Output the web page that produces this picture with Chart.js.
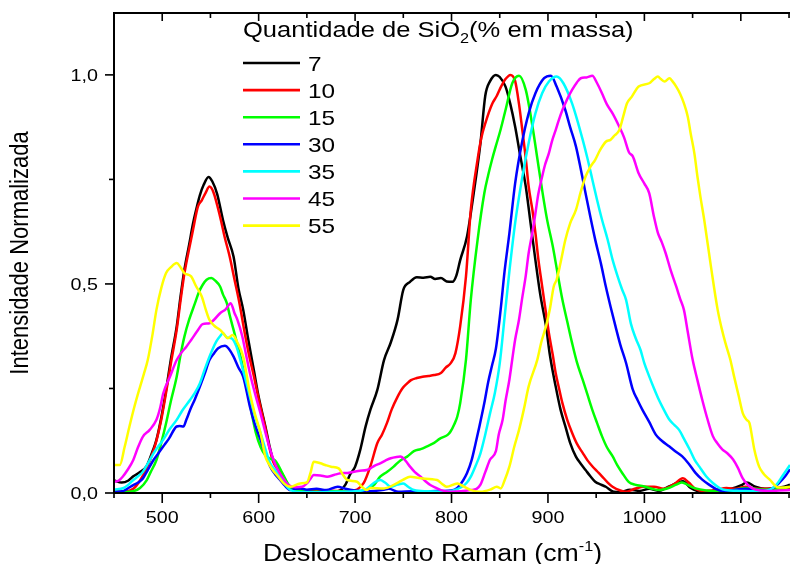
<!DOCTYPE html>
<html lang="pt">
<head>
    <meta charset="UTF-8">
    <title>Espectros Raman normalizados</title>
    <script src="https://cdn.jsdelivr.net/npm/chart.js"></script>
    <style>
        body { margin: 0; background: #fff; }
        canvas { display: block; }
    </style>
</head>
<body>
    <canvas id="ramanChart" width="790" height="564"></canvas>

    <script>
        // Raman shift (cm-1) and normalized intensity, one pair per SiO2 content
        const shift7 = [450,458,465,470,477,484,490,494,499,504,509,515,519,523,528,532,536,539,543,548,552,557,563,568,574,579,584,589,595,600,607,611,615,620,624,628,631,636,645,660,675,685,690,695,700,705,711,716,723,730,737,744,750,757,764,771,778,783,789,795,801,805,809,816,823,830,835,840,846,850,856,861,866,871,877,882,887,892,898,902,908,913,918,923,929,934,939,944,949,955,960,968,975,985,995,1005,1015,1025,1035,1040,1048,1060,1075,1090,1100,1106,1115,1125,1135,1145,1151];
        const int7 = [0.03,0.025,0.03,0.04,0.05,0.065,0.10,0.127,0.18,0.246,0.32,0.398,0.47,0.534,0.595,0.645,0.685,0.712,0.737,0.756,0.745,0.715,0.653,0.61,0.565,0.49,0.438,0.37,0.294,0.23,0.159,0.115,0.079,0.06,0.047,0.03,0.015,0.008,0.005,0.003,0.003,0.007,0.02,0.045,0.063,0.1,0.16,0.2,0.246,0.318,0.36,0.414,0.486,0.505,0.516,0.515,0.517,0.512,0.514,0.506,0.505,0.52,0.557,0.613,0.717,0.837,0.95,0.985,1.0,0.995,0.972,0.93,0.876,0.81,0.733,0.645,0.557,0.475,0.399,0.33,0.255,0.2,0.16,0.12,0.087,0.07,0.055,0.04,0.027,0.02,0.015,0.003,0.002,0.008,0.005,0.01,0.005,0.015,0.025,0.028,0.012,0.003,0.005,0.01,0.018,0.025,0.015,0.01,0.012,0.015,0.02];

        const shift10 = [450,460,470,477,484,490,494,499,504,509,515,519,523,528,532,537,541,545,549,553,560,565,570,575,580,585,590,595,600,607,611,615,620,624,628,632,640,650,665,680,695,702,709,716,723,728,733,738,744,749,754,758,764,770,776,782,789,794,799,804,809,815,820,827,831,835,842,847,851,856,861,866,870,873,877,880,884,887,890,894,898,901,905,908,912,915,920,925,930,936,941,946,951,956,962,967,975,981,990,1000,1010,1020,1030,1040,1046,1053,1062,1075,1085,1095,1105,1115,1125,1135,1145,1151];
        const int10 = [0.005,0.003,0.01,0.03,0.06,0.095,0.125,0.175,0.24,0.31,0.39,0.46,0.525,0.585,0.63,0.685,0.7,0.718,0.733,0.72,0.661,0.61,0.565,0.51,0.455,0.39,0.33,0.28,0.225,0.155,0.11,0.075,0.055,0.04,0.025,0.012,0.006,0.004,0.006,0.005,0.004,0.008,0.024,0.065,0.119,0.14,0.167,0.2,0.23,0.25,0.262,0.27,0.275,0.278,0.28,0.282,0.287,0.3,0.31,0.334,0.399,0.518,0.677,0.797,0.85,0.884,0.93,0.95,0.97,0.99,1.0,0.985,0.93,0.876,0.8,0.733,0.675,0.622,0.56,0.494,0.43,0.382,0.33,0.287,0.245,0.215,0.175,0.144,0.118,0.096,0.078,0.064,0.052,0.04,0.025,0.015,0.006,0.003,0.01,0.015,0.015,0.01,0.02,0.035,0.025,0.01,0.005,0.008,0.012,0.01,0.015,0.01,0.01,0.012,0.01,0.01];

        const shift15 = [450,460,470,477,484,488,494,499,504,509,515,519,523,528,534,538,542,546,551,555,560,563,567,570,574,578,582,587,592,597,602,607,612,617,620,624,628,631,636,645,660,680,700,712,720,726,733,740,747,754,761,768,774,782,788,796,799,803,806,809,815,820,827,834,838,842,846,851,856,863,870,877,884,889,894,899,905,910,915,920,925,930,936,941,946,951,956,961,967,972,977,984,990,1001,1008,1015,1025,1033,1039,1046,1053,1065,1084,1095,1105,1115,1125,1135,1145,1151];
        const int15 = [0.003,0.002,0.004,0.012,0.031,0.05,0.079,0.12,0.167,0.22,0.278,0.33,0.374,0.415,0.454,0.48,0.498,0.51,0.514,0.508,0.494,0.475,0.454,0.425,0.39,0.355,0.318,0.26,0.2,0.145,0.11,0.09,0.082,0.078,0.068,0.05,0.032,0.02,0.008,0.005,0.003,0.004,0.003,0.008,0.02,0.039,0.05,0.063,0.078,0.087,0.1,0.105,0.111,0.12,0.13,0.139,0.147,0.165,0.183,0.215,0.319,0.462,0.605,0.717,0.76,0.797,0.83,0.87,0.916,0.98,0.998,0.964,0.876,0.8,0.724,0.655,0.59,0.525,0.462,0.41,0.359,0.313,0.271,0.235,0.199,0.167,0.136,0.11,0.088,0.066,0.048,0.026,0.02,0.015,0.01,0.007,0.012,0.02,0.025,0.018,0.011,0.006,0.003,0.008,0.012,0.01,0.008,0.01,0.012,0.015];

        const shift30 = [450,460,465,470,475,480,485,491,496,501,507,515,518,522,525,529,534,539,544,549,554,558,565,569,574,579,584,591,596,602,607,612,617,622,627,633,638,643,650,660,670,682,690,700,710,720,730,735,745,760,775,790,800,806,812,816,821,825,829,834,838,842,846,851,855,860,866,873,880,887,896,903,909,918,923,929,934,939,944,949,955,960,965,970,975,981,988,993,998,1005,1012,1018,1026,1032,1039,1046,1053,1060,1067,1074,1081,1095,1105,1115,1125,1133,1140,1146,1151];
        const int30 = [0.003,0.005,0.012,0.019,0.025,0.035,0.055,0.079,0.095,0.111,0.13,0.159,0.16,0.159,0.175,0.199,0.225,0.254,0.285,0.318,0.335,0.346,0.352,0.345,0.326,0.3,0.278,0.206,0.165,0.127,0.093,0.063,0.045,0.032,0.018,0.007,0.01,0.011,0.008,0.01,0.007,0.015,0.01,0.006,0.004,0.005,0.008,0.01,0.003,0.004,0.004,0.005,0.006,0.012,0.03,0.047,0.08,0.119,0.16,0.215,0.265,0.305,0.345,0.44,0.53,0.621,0.741,0.837,0.908,0.956,0.992,0.998,0.972,0.916,0.875,0.829,0.775,0.717,0.66,0.606,0.548,0.494,0.445,0.399,0.355,0.311,0.247,0.222,0.199,0.17,0.139,0.125,0.111,0.1,0.088,0.07,0.048,0.032,0.02,0.01,0.005,0.008,0.01,0.008,0.006,0.011,0.025,0.04,0.057];

        const shift35 = [450,460,465,470,475,480,485,491,496,501,507,515,521,529,534,539,544,549,556,560,563,567,572,577,581,586,591,596,602,607,612,617,622,627,633,640,660,680,700,712,720,726,731,737,744,750,755,761,775,790,800,811,816,820,825,830,835,840,845,850,855,860,866,873,880,887,894,901,909,916,925,930,936,941,946,951,956,962,967,972,977,981,986,991,996,1000,1005,1010,1015,1020,1026,1031,1036,1041,1047,1052,1057,1064,1071,1078,1084,1100,1115,1130,1137,1143,1151];
        const int35 = [0.008,0.012,0.02,0.031,0.04,0.051,0.07,0.095,0.112,0.127,0.15,0.175,0.198,0.223,0.24,0.262,0.295,0.326,0.362,0.375,0.382,0.372,0.37,0.35,0.318,0.275,0.23,0.185,0.143,0.105,0.071,0.055,0.04,0.022,0.007,0.003,0.002,0.003,0.004,0.01,0.025,0.031,0.025,0.015,0.02,0.023,0.015,0.007,0.004,0.003,0.005,0.015,0.025,0.039,0.065,0.095,0.14,0.191,0.24,0.31,0.42,0.53,0.646,0.75,0.837,0.908,0.956,0.984,0.996,0.98,0.932,0.895,0.845,0.8,0.75,0.7,0.654,0.605,0.558,0.52,0.486,0.462,0.405,0.37,0.342,0.31,0.279,0.25,0.223,0.2,0.175,0.163,0.151,0.13,0.104,0.08,0.063,0.04,0.024,0.012,0.007,0.005,0.004,0.008,0.02,0.04,0.067];

        const shift45 = [450,455,459,464,470,475,480,487,494,498,501,508,515,520,525,530,536,542,549,554,560,566,571,575,578,583,587,591,596,602,607,612,617,622,627,631,638,645,650,654,657,664,671,678,685,692,699,705,712,716,720,726,731,737,743,747,752,757,762,768,773,778,784,789,799,810,820,826,830,835,840,846,849,853,856,860,863,866,870,873,877,880,884,887,890,894,897,901,904,908,911,915,920,925,930,934,940,946,951,956,961,967,974,979,984,988,994,1000,1005,1010,1014,1018,1022,1027,1033,1037,1041,1045,1050,1055,1060,1065,1071,1076,1081,1086,1092,1097,1102,1107,1112,1120,1130,1140,1151];
        const int45 = [0.027,0.03,0.039,0.055,0.079,0.11,0.135,0.151,0.175,0.205,0.238,0.278,0.318,0.336,0.35,0.366,0.386,0.404,0.406,0.415,0.43,0.44,0.454,0.43,0.414,0.375,0.33,0.286,0.24,0.19,0.145,0.103,0.07,0.047,0.03,0.019,0.014,0.015,0.023,0.035,0.043,0.042,0.039,0.043,0.047,0.048,0.051,0.053,0.055,0.059,0.065,0.071,0.077,0.083,0.086,0.087,0.078,0.063,0.05,0.039,0.028,0.019,0.012,0.007,0.003,0.004,0.007,0.01,0.02,0.05,0.08,0.1,0.14,0.175,0.22,0.271,0.32,0.367,0.415,0.462,0.52,0.574,0.625,0.669,0.715,0.757,0.785,0.813,0.84,0.868,0.89,0.916,0.942,0.964,0.982,0.992,0.994,0.998,0.98,0.956,0.93,0.908,0.876,0.85,0.815,0.805,0.765,0.74,0.717,0.66,0.622,0.6,0.574,0.535,0.494,0.465,0.438,0.385,0.319,0.27,0.223,0.18,0.136,0.118,0.104,0.095,0.08,0.06,0.035,0.02,0.011,0.006,0.005,0.006,0.007];

        const shift55 = [450,456,461,466,471,477,481,485,490,494,499,504,509,515,519,523,530,535,541,545,549,554,560,564,568,573,578,584,591,596,602,607,611,615,620,626,633,643,650,654,657,664,669,675,683,687,692,702,707,712,716,730,743,750,757,768,785,790,795,806,813,820,830,840,847,851,855,860,865,870,875,880,889,893,898,902,906,909,913,918,923,929,934,939,944,949,954,960,965,969,974,978,982,987,994,1005,1010,1014,1017,1021,1026,1029,1033,1037,1041,1045,1048,1052,1055,1058,1062,1069,1076,1080,1084,1089,1093,1098,1102,1106,1109,1112,1114,1119,1124,1130,1138,1145,1151];
        const int55 = [0.067,0.067,0.11,0.159,0.205,0.254,0.285,0.318,0.38,0.438,0.49,0.526,0.54,0.55,0.54,0.526,0.518,0.495,0.47,0.44,0.414,0.4,0.39,0.38,0.37,0.378,0.36,0.326,0.238,0.19,0.143,0.087,0.068,0.054,0.04,0.023,0.015,0.023,0.025,0.05,0.075,0.071,0.067,0.063,0.059,0.045,0.031,0.027,0.015,0.007,0.012,0.011,0.023,0.032,0.039,0.035,0.031,0.022,0.015,0.023,0.015,0.007,0.003,0.008,0.015,0.011,0.03,0.063,0.11,0.151,0.2,0.255,0.319,0.36,0.399,0.44,0.494,0.51,0.55,0.605,0.645,0.677,0.72,0.757,0.78,0.797,0.82,0.84,0.845,0.855,0.868,0.9,0.932,0.948,0.972,0.98,0.99,0.996,0.99,0.984,0.992,0.985,0.972,0.955,0.932,0.9,0.86,0.81,0.757,0.71,0.654,0.542,0.438,0.395,0.359,0.32,0.279,0.23,0.191,0.175,0.167,0.13,0.104,0.063,0.045,0.032,0.014,0.013,0.015];

        const seriesLabels = ['7', '10', '15', '30', '35', '45', '55'];
        const seriesColors = ['#000000', '#ff0000', '#00ff00', '#0000ff', '#00ffff', '#ff00ff', '#ffff00'];
        const seriesX = [shift7, shift10, shift15, shift30, shift35, shift45, shift55];
        const seriesY = [int7, int10, int15, int30, int35, int45, int55];

        // axis ticks
        const xTickValues = [450, 500, 550, 600, 650, 700, 750, 800, 850, 900, 950, 1000, 1050, 1100, 1150];
        const yTickValues = [0, 0.25, 0.5, 0.75, 1.0];

        const FONT = '"Liberation Sans", Arial, sans-serif';
        const SX = 1.16; // the original figure is slightly stretched horizontally

        // draws a run of text pieces [text, size, dy], stretched horizontally
        function drawRich(ctx, parts, x, y, align) {
            ctx.save();
            ctx.translate(x, y);
            ctx.scale(SX, 1);
            let total = 0;
            parts.forEach(p => {
                ctx.font = p[1] + 'px ' + FONT;
                total += ctx.measureText(p[0]).width;
            });
            let cx = align === 'center' ? -total / 2 : (align === 'right' ? -total : 0);
            ctx.textBaseline = 'alphabetic';
            ctx.textAlign = 'left';
            parts.forEach(p => {
                ctx.font = p[1] + 'px ' + FONT;
                ctx.fillText(p[0], cx, p[2] || 0);
                cx += ctx.measureText(p[0]).width;
            });
            ctx.restore();
        }

        const frameAndText = {
            id: 'frameAndText',
            afterDraw(chart) {
                const { ctx, chartArea: a, scales: { x, y } } = chart;
                ctx.save();
                ctx.fillStyle = '#000';

                // frame: left, top, bottom
                ctx.fillRect(a.left - 1, a.top - 1, 2, a.bottom - a.top + 2);
                ctx.fillRect(a.left - 1, a.top - 1, a.right - a.left + 1, 2);
                ctx.fillRect(a.left - 1, a.bottom - 1, a.right - a.left + 1, 2);

                // x ticks (bottom outward, top inward)
                xTickValues.forEach(v => {
                    const px = x.getPixelForValue(v);
                    const major = v % 100 === 0;
                    ctx.fillRect(px - 0.8, a.bottom, 1.6, major ? 10 : 5);
                    ctx.fillRect(px - 0.8, a.top, 1.6, major ? 8 : 5);
                    if (major) {
                        drawRich(ctx, [[String(v), 17]], px, 523, 'center');
                    }
                });

                // y ticks (left outward)
                yTickValues.forEach(v => {
                    const py = y.getPixelForValue(v);
                    const major = Math.abs(v * 2 - Math.round(v * 2)) < 1e-6;
                    ctx.fillRect(a.left - (major ? 9 : 5), py - 0.8, major ? 9 : 5, 1.6);
                    if (major) {
                        drawRich(ctx, [[v.toFixed(1).replace('.', ','), 17]], 98, py + 6, 'right');
                    }
                });

                // axis titles
                drawRich(ctx, [['Deslocamento Raman (cm', 23], ['-1', 14, -10], [')', 23]], 263, 561, 'left');

                ctx.save();
                ctx.translate(20, 253);
                ctx.scale(SX, 1);
                ctx.rotate(-Math.PI / 2);
                ctx.font = '22px ' + FONT;
                ctx.textAlign = 'center';
                ctx.textBaseline = 'alphabetic';
                ctx.fillText('Intensidade Normalizada', 0, 7);
                ctx.restore();

                // legend
                drawRich(ctx, [['Quantidade de SiO', 22], ['2', 14, 6], ['(% em massa)', 22]], 243, 37, 'left');
                chart.data.datasets.forEach((ds, i) => {
                    const ly = 63 + i * 27.1;
                    ctx.strokeStyle = ds.borderColor;
                    ctx.lineWidth = 2.6;
                    ctx.beginPath();
                    ctx.moveTo(243, ly);
                    ctx.lineTo(300, ly);
                    ctx.stroke();
                    drawRich(ctx, [[ds.label, 21]], 308, ly + 7.5, 'left');
                });

                ctx.restore();
            }
        };

        const datasets = seriesLabels.map((label, i) => ({
            label: label,
            data: seriesX[i].map((v, k) => ({ x: v, y: seriesY[i][k] })),
            borderColor: seriesColors[i],
            borderWidth: 2.5,
            pointRadius: 0,
            fill: false,
            cubicInterpolationMode: 'monotone',
            order: seriesLabels.length - i
        }));

        const ramanCtx = document.getElementById('ramanChart').getContext('2d');
        new Chart(ramanCtx, {
            type: 'line',
            data: { datasets: datasets },
            options: {
                responsive: false,
                animation: false,
                layout: { padding: { top: 13, left: 0, right: 0, bottom: 0 } },
                plugins: {
                    legend: { display: false },
                    tooltip: { enabled: false }
                },
                scales: {
                    x: {
                        type: 'linear',
                        min: 450,
                        max: 1151,
                        grid: { display: false },
                        border: { display: false },
                        ticks: { display: false },
                        afterFit: s => { s.height = 71; }
                    },
                    y: {
                        min: 0,
                        max: 1.148,
                        grid: { display: false },
                        border: { display: false },
                        ticks: { display: false },
                        afterFit: s => { s.width = 114; }
                    }
                }
            },
            plugins: [frameAndText]
        });
    </script>
</body>
</html>
